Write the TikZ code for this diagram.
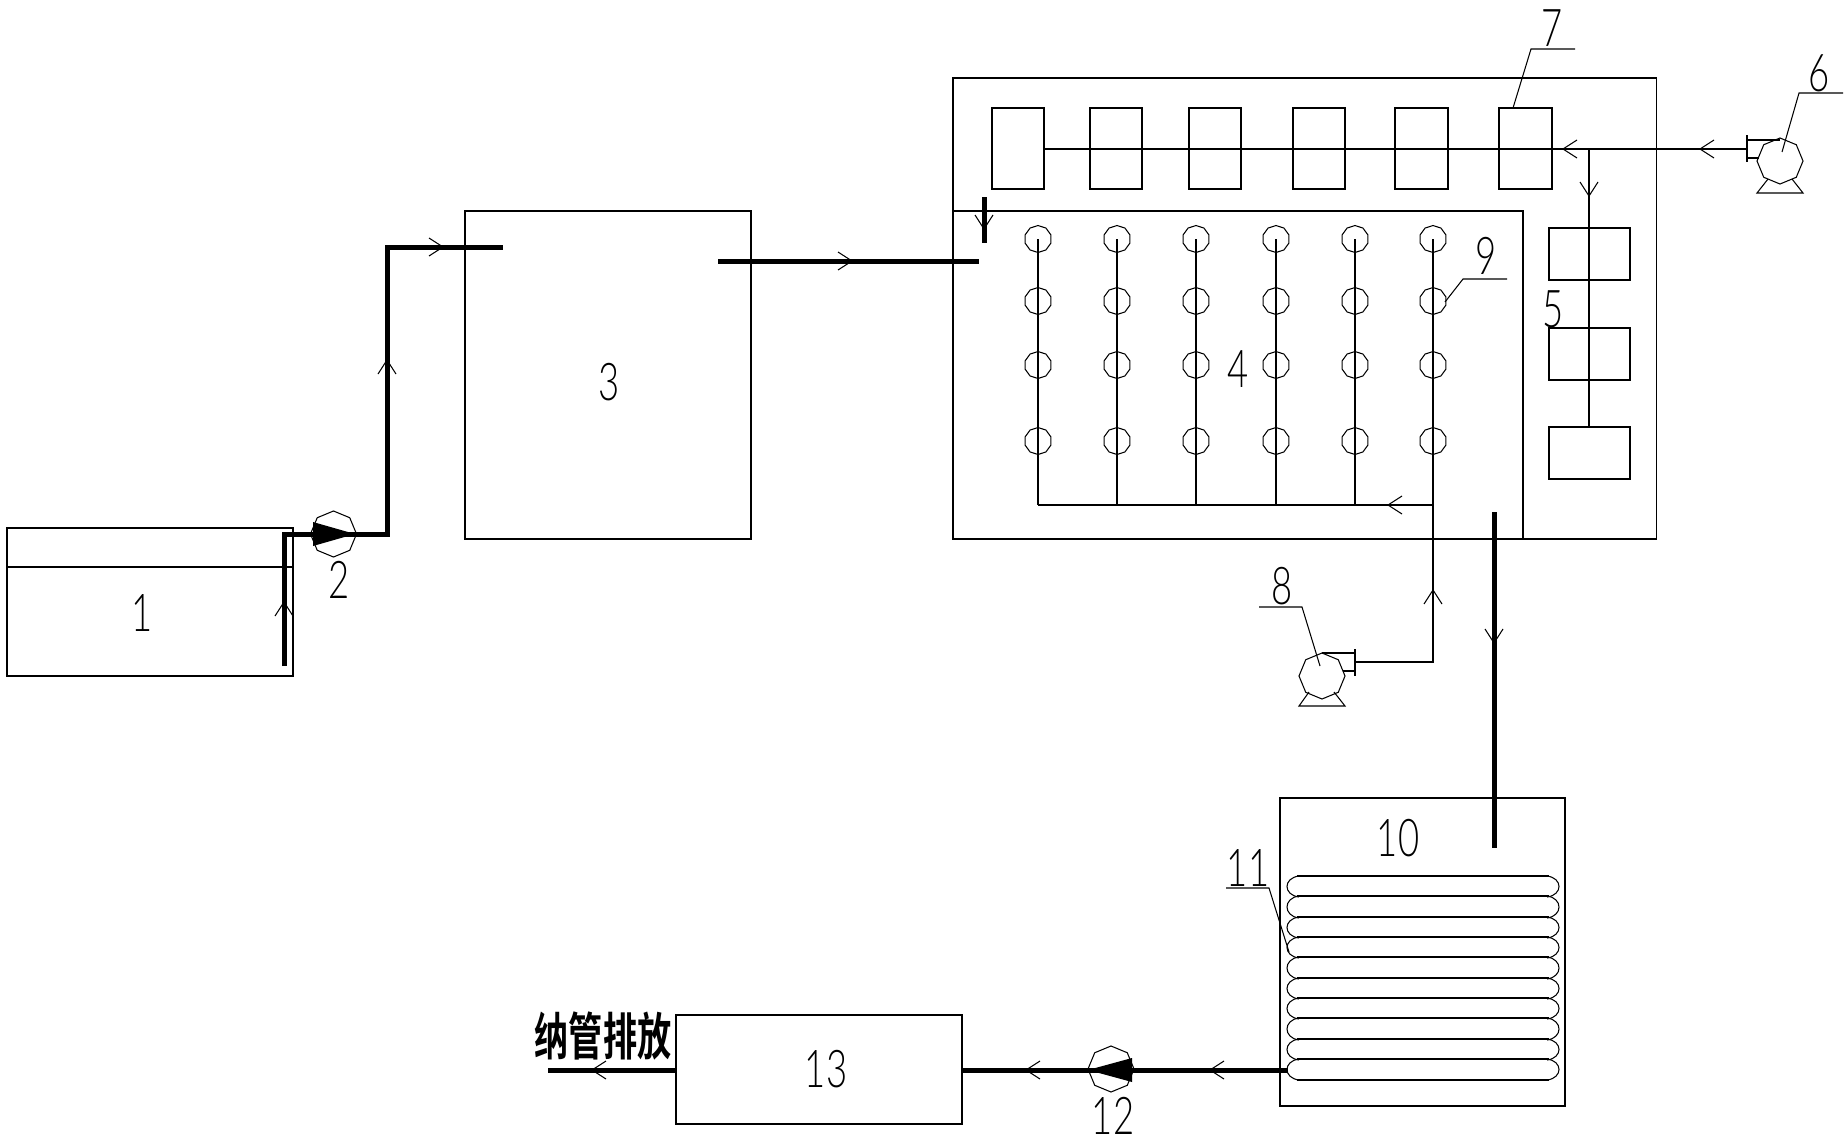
\documentclass[tikz,border=0pt]{standalone}
\usepackage{fontspec}
\usepackage{graphicx}
\usetikzlibrary{shapes.geometric}
\newfontfamily\dgfont{Lato Light}
\newfontfamily\cjkfont{Noto Sans CJK SC Bold}
\newcommand{\dgt}[1]{\scalebox{.70}[1]{#1}}
\newcommand{\bx}[5]{%
  \pgfmathsetmacro{\bxcx}{(#2+#4)/2}\pgfmathsetmacro{\bxcy}{(#3+#5)/2}%
  \pgfmathsetmacro{\bxw}{(#4-#2)*0.01}\pgfmathsetmacro{\bxh}{(#5-#3)*0.01}%
  \node[tankbox,minimum width=\bxw cm,minimum height=\bxh cm] (#1) at (\bxcx,\bxcy) {};}
\newcommand{\tipR}[2]{\draw[wing,shift={(#1,#2)}] (-14,-9)--(0,0)--(-14,9);}
\newcommand{\tipL}[2]{\draw[wing,shift={(#1,#2)}] (14,-9)--(0,0)--(14,9);}
\newcommand{\tipU}[2]{\draw[wing,shift={(#1,#2)}] (-9,14)--(0,0)--(9,14);}
\newcommand{\tipD}[2]{\draw[wing,shift={(#1,#2)}] (-9,-14)--(0,0)--(9,-14);}
\tikzset{
  x=0.01cm,y=-0.01cm,
  thinl/.style={line width=0.0105cm,line join=miter},
  thickl/.style={line width=0.05cm,line join=miter},
  wing/.style={line width=0.0105cm},
  tankbox/.style={draw,line width=0.0105cm,inner sep=0pt,outer sep=0pt},
  pumpbody/.style={draw,line width=0.0105cm,regular polygon,regular polygon sides=8,regular polygon rotate=22.5,minimum size=0.46cm,inner sep=0pt,outer sep=0pt},
  nozzle/.style={draw,line width=0.0105cm,regular polygon,regular polygon sides=10,regular polygon rotate=18,minimum size=0.27cm,inner sep=0pt,outer sep=0pt},
  lab/.style={font=\dgfont\fontsize{14.8pt}{16pt}\selectfont,inner sep=0pt,outer sep=0pt},
}
\begin{document}
\begin{tikzpicture}
\path[use as bounding box,fill=white] (0,0) rectangle (1848,1142);

% tanks and boxes
\bx{tA}{7}{528}{293}{676}
\draw[thinl] (tA.west |- 0,567) -- (tA.east |- 0,567);
\bx{tC}{465}{211}{751}{539}
\bx{outer}{953}{78}{1656}{539}
\draw[thinl] (outer.west |- 0,211) -- (1523,211) -- (1523,539);
\bx{m1}{992}{108}{1044}{189}
\bx{m2}{1090}{108}{1142}{189}
\bx{m3}{1189}{108}{1241}{189}
\bx{m4}{1293}{108}{1345}{189}
\bx{m5}{1395}{108}{1448}{189}
\bx{m6}{1499}{108}{1552}{189}
\bx{c1}{1549}{228}{1630}{280}
\bx{c2}{1549}{328}{1630}{380}
\bx{c3}{1549}{427}{1630}{479}
\bx{tJ}{1280}{798}{1565}{1106}
\bx{tM}{676}{1015}{962}{1124}

% pumps
\node[pumpbody] (p2) at (333.5,534) {};
\node[pumpbody] (p6) at (1780,161) {};
\node[pumpbody] (p8) at (1322,676) {};
\node[pumpbody] (p12) at (1111,1069) {};

% pump 6 flange, feet
\coordinate (f6) at (1747,149);
\draw[thinl] (1747,135) -- (1747,162);
\draw[thinl] (1747,140) -- (1780,140);
\draw[thinl] (1747,158) -- (1759,158);
\draw[thinl] (1768,179) -- (1757,193) -- (1803,193) -- (1792,179);
% pump 8 flange, feet
\coordinate (f8) at (1355,662);
\draw[thinl] (1355,649) -- (1355,676);
\draw[thinl] (1322,653) -- (1355,653);
\draw[thinl] (1343,671) -- (1355,671);
\draw[thinl] (1309,692) -- (1299,706) -- (1345,706) -- (1334,692);

% air line
\draw[thinl] (m1.east |- 0,149) -- (f6);
\draw[thinl] (1589,149) -- (c3.north -| 1589,0);
\tipL{1563}{149}\tipL{1700}{149}\tipD{1589}{196}

% nozzle field
\foreach \cx [count=\i] in {1038,1117,1196,1276,1355,1433}{
  \coordinate (col\i) at (\cx,505);
  \foreach \ry [count=\j] in {239,301,365,441}{
    \node[nozzle] (n\i\j) at (\cx,\ry) {};
  }
  \draw[thinl] (n\i1.center) -- (col\i);
}
\draw[thinl] (col1) -- (col6);
\draw[thinl] (col6) -- (1433,662) -- (f8);
\tipL{1388}{505}\tipU{1433}{590}

% thick process pipes
\coordinate (inA) at (284,666);
\coordinate (outC) at (503,247);
\draw[thickl] (inA) -- (284,534) -- (387,534) -- (387,247) -- (outC);
\draw[thickl] (718,261) -- (979,261);
\draw[thickl] (984,197) -- (984,243);
\draw[thickl] (1494,512) -- (1494,848);
\draw[thickl] (1288,1070) -- (tM.east |- 0,1070);
\coordinate (disch) at (548,1070);
\draw[thickl] (tM.west |- 0,1070) -- (disch);
\fill (355,534) -- (313,522) -- (313,546) -- cycle;
\fill (1088,1070) -- (1132,1058) -- (1132,1082) -- cycle;
\tipU{284}{602}\tipU{387}{360}\tipR{443}{247}\tipR{852}{261}\tipD{984}{229}
\tipD{1494}{643}\tipL{1210}{1070}\tipL{1026}{1070}\tipL{592}{1070}

% coil
\foreach \yy in {876,896,917,937,957,978,998,1018,1039,1059}{
  \draw[thinl] (1297,\yy) -- (1549,\yy);
}
\draw[line width=0.025cm] (1297,1080) -- (1549,1080);
\foreach \ya/\yb in {876/897,896/918,917/938,937/958,957/979,978/999,998/1019,1018/1040,1039/1060,1059/1080}{
  \draw[thinl] (1299,\ya) .. controls (1283,\ya+2) and (1283,\yb-2) .. (1299,\yb);
  \draw[thinl] (1547,\ya) .. controls (1563,\ya+2) and (1563,\yb-2) .. (1547,\yb);
}

% leaders
\draw[thinl] (1513,108) -- (1531,49) -- (1575,49);
\draw[thinl] (1782,152) -- (1799,93) -- (1843,93);
\draw[thinl] (1320,666) -- (1302,607) -- (1259,607);
\draw[thinl] (1445,302) -- (1463,279) -- (1507,279);
\draw[thinl] (1289,952) -- (1269,888) -- (1226,888);

% labels
\node[lab] (l1) at (142,613) {\dgt{1}};
\node[lab] (l2) at (339,580) {\dgt{2}};
\node[lab] (l3) at (609,382) {\dgt{3}};
\node[lab] (l4) at (1238,369) {\dgt{4}};
\node[lab] (l5) at (1553,309) {\dgt{5}};
\node[lab] (l6) at (1819,73) {\dgt{6}};
\node[lab] (l7) at (1552,28) {\dgt{7}};
\node[lab] (l8) at (1282,586) {\dgt{8}};
\node[lab] (l9) at (1486,256) {\dgt{9}};
\node[lab] (l10) at (1398,838) {\dgt{10}};
\node[lab] (l11) at (1248,868) {\dgt{11}};
\node[lab] (l12) at (1113,1116) {\dgt{12}};
\node[lab] (l13) at (826,1069) {\dgt{13}};
\node[inner sep=0pt,font=\cjkfont\fontsize{14.5pt}{15pt}\selectfont] (lout) at (603,1036) {\scalebox{.67}[1]{纳管排放}};
\end{tikzpicture}
\end{document}
